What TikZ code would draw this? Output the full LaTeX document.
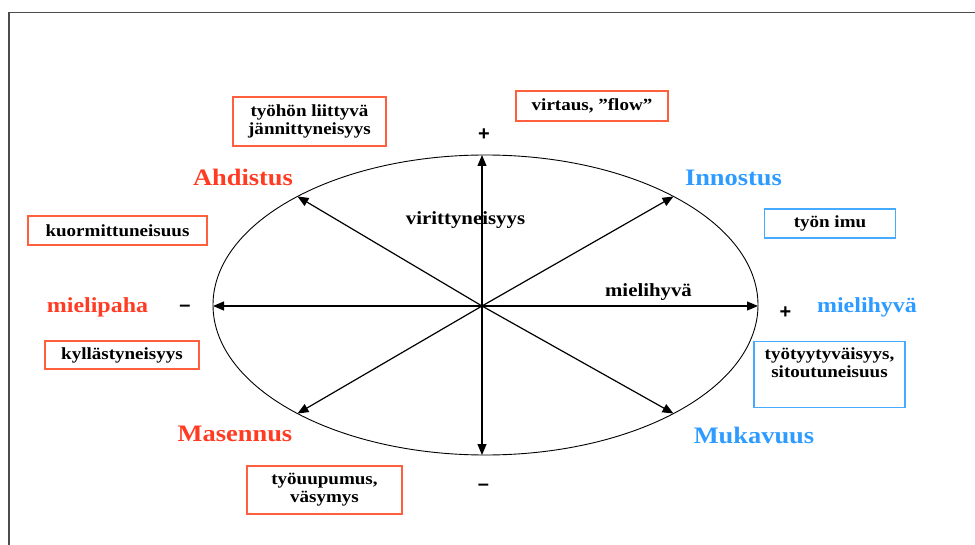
\documentclass[tikz,border=0pt]{standalone}
\usepackage{fontspec}
\setmainfont{Liberation Serif}[FakeStretch=1.12]
\newfontfamily\signfont{Liberation Sans}
\usepackage{tikz}
\usetikzlibrary{shapes.geometric,arrows.meta}
\usepackage{xcolor}
\definecolor{boxred}{RGB}{255,95,60}
\definecolor{boxblue}{RGB}{70,170,255}
\definecolor{txtred}{RGB}{255,60,35}
\definecolor{txtblue}{RGB}{45,155,255}
\tikzstyle{redbox} = [draw=boxred, line width=1.4pt, rectangle, inner sep=0pt, align=center, font=\fontsize{17}{18}\selectfont\bfseries]
\tikzstyle{bluebox} = [redbox, draw=boxblue]
\tikzstyle{redtitle} = [text=txtred, font=\fontsize{23.6}{26}\selectfont\bfseries, anchor=base]
\tikzstyle{bluetitle} = [redtitle, text=txtblue]
\tikzstyle{sidetitle} = [font=\fontsize{21.4}{24}\selectfont\bfseries]
\tikzstyle{axislabel} = [font=\fontsize{18.6}{20}\selectfont\bfseries, anchor=base]
\tikzstyle{pm} = [font=\signfont\fontsize{20}{22}\selectfont\bfseries, inner sep=0pt]
\tikzstyle{axis} = [-{Triangle[length=11pt,width=9pt]}, line width=1.2pt]

\begin{document}
\begin{tikzpicture}[x=1pt,y=-1pt]
\useasboundingbox (0,0) rectangle (975,545);
\draw[gray!60!black, line width=1.2pt] (9,545) -- (9,12.5) -- (975,12.5);

\node[draw, ellipse, minimum width=545pt, minimum height=300pt, inner sep=0pt, outer sep=0pt, line width=0.9pt] (ell) at (485.5,305) {};
\coordinate (o) at (482,306);
\draw[axis] (o) -- (o |- ell.north);
\draw[axis] (o) -- (o |- ell.south);
\draw[axis] (o) -- (ell.east |- o);
\draw[axis] (o) -- (ell.west |- o);
\draw[axis] (o) -- (ell.30);
\draw[axis] (o) -- (ell.150);
\draw[axis] (o) -- (ell.210);
\draw[axis] (o) -- (ell.330);

\node[redtitle] (ahd) at (243,186) {Ahdistus};
\node[bluetitle] (inn) at (733.5,186) {Innostus};
\node[redtitle] (mas) at (235,441.5) {Masennus};
\node[bluetitle] (muk) at (754,443) {Mukavuus};
\node[redtitle, sidetitle] (paha) at (97.5,313) {mielipaha};
\node[bluetitle, sidetitle] (hyva) at (867,313) {mielihyvä};
\node[axislabel] (vir) at (465.5,225) {virittyneisyys};
\node[axislabel] (mhy) at (648.5,296.5) {mielihyvä};

\node[pm] (plustop) at (484,135) {+};
\node[pm] (minusbot) at (483.5,487) {–};
\node[pm] (minusleft) at (185,308) {–};
\node[pm] (plusright) at (785.5,313) {+};

\node[redbox, minimum width=153pt, minimum height=49pt] (tens) at (309.5,121.5) {työhön liittyvä\\jännittyneisyys};
\node[redbox, minimum width=152pt, minimum height=30pt] (flow) at (592,106) {virtaus, ”flow”};
\node[redbox, minimum width=179pt, minimum height=29pt] (kuor) at (117.5,230.5) {kuormittuneisuus};
\node[redbox, minimum width=154pt, minimum height=28pt] (kyll) at (122,355) {kyllästyneisyys};
\node[redbox, minimum width=155pt, minimum height=48pt] (uup) at (324.5,490) {työuupumus,\\väsymys};
\node[bluebox, minimum width=131pt, minimum height=29pt] (imu) at (830,223.5) {työn imu};
\node[bluebox, minimum width=151pt, text height=36pt, text depth=30pt, anchor=north] (tyyt) at (829.5,340.7) {työtyytyväisyys,\\sitoutuneisuus};
\end{tikzpicture}
\end{document}
